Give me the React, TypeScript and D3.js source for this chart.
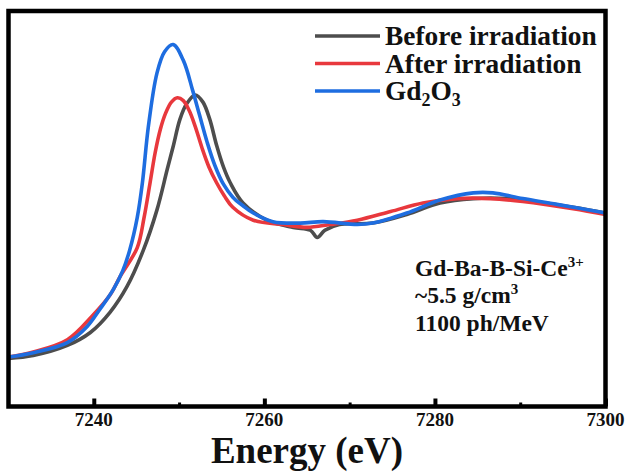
import { useEffect, useRef } from 'react'
import * as d3 from 'd3'

// XANES Gd L-edge, normalized absorption
const beforeData: [number, number][] = [
  [7230, -0.01], [7232.9, 0.01], [7236.9, 0.08], [7239.6, 0.17], [7241.9, 0.31],
  [7243.9, 0.49], [7245.8, 0.74], [7247.4, 1.02], [7248.6, 1.3], [7249.3, 1.46],
  [7250.1, 1.65], [7250.9, 1.76], [7251.9, 1.82], [7252.8, 1.77], [7253.6, 1.65],
  [7254.4, 1.47], [7255.2, 1.32], [7256.0, 1.21], [7257.5, 1.07], [7260.3, 0.95],
  [7263.4, 0.9], [7265.4, 0.88], [7266.2, 0.83], [7267.1, 0.88], [7268.8, 0.92],
  [7272.7, 0.93], [7276.7, 0.99], [7280.6, 1.07], [7284.5, 1.1], [7288.5, 1.1],
  [7296.2, 1.04], [7300, 1.0],
]

const afterData: [number, number][] = [
  [7230, 0.0], [7232.9, 0.035], [7236.9, 0.12], [7239.9, 0.29], [7241.9, 0.43],
  [7243.1, 0.56], [7245.1, 0.76], [7245.9, 0.97], [7246.6, 1.21], [7247.2, 1.42],
  [7247.8, 1.58], [7248.4, 1.69], [7249.1, 1.77], [7249.8, 1.8], [7250.5, 1.78],
  [7251.2, 1.71], [7251.9, 1.6], [7252.7, 1.45], [7253.5, 1.32], [7254.4, 1.21],
  [7255.3, 1.12], [7256.3, 1.04], [7258.7, 0.95], [7262.2, 0.92], [7265.0, 0.9],
  [7267.7, 0.92], [7270.9, 0.95], [7274.8, 1.01], [7278.6, 1.07], [7282.6, 1.1],
  [7286.5, 1.1], [7290.3, 1.08], [7296.2, 1.03], [7300, 0.99],
]

const gd2o3Data: [number, number][] = [
  [7230, 0.0], [7232.9, 0.03], [7236.9, 0.1], [7239.2, 0.21], [7240.7, 0.33],
  [7242.3, 0.47], [7243.4, 0.6], [7244.2, 0.74], [7245.1, 0.97], [7245.7, 1.21],
  [7246.4, 1.6], [7247.4, 1.97], [7248.3, 2.12], [7249.3, 2.17], [7250.5, 2.06],
  [7251.6, 1.85], [7252.4, 1.68], [7253.3, 1.49], [7254.2, 1.33], [7255.2, 1.2],
  [7256.3, 1.11], [7257.5, 1.05], [7258.7, 1.0], [7261.0, 0.94], [7264.2, 0.93],
  [7266.9, 0.94], [7270.9, 0.92], [7272.7, 0.93], [7276.7, 1.0], [7280.6, 1.09],
  [7284.5, 1.14], [7286.8, 1.14], [7290.3, 1.1], [7294.3, 1.06], [7300, 1.0],
]

const majorTicks = [7240, 7260, 7280, 7300]
const minorTicks = [7250, 7270, 7290]

const series = [
  { name: 'Before irradiation', data: beforeData, color: '#4d4d4d' },
  { name: 'After irradiation', data: afterData, color: '#e8383d' },
  { name: 'Gd2O3', data: gd2o3Data, color: '#1e6de0' },
]

const FONT = '"Liberation Serif", "Times New Roman", serif'

export default function App() {
  const ref = useRef<SVGSVGElement>(null)

  useEffect(() => {
    const svg = d3.select(ref.current)
    svg.selectAll('*').remove()

    const left = 8.5, right = 605.5, top = 11, bottom = 406.5

    const x = d3.scaleLinear().domain([7230, 7300]).range([left, right])
    const y = d3.scaleLinear().domain([-0.344, 2.403]).range([bottom, top])

    const line = d3.line<[number, number]>()
      .x(d => x(d[0]))
      .y(d => y(d[1]))
      .curve(d3.curveCatmullRom.alpha(0.5))

    const plot = svg.append('g')

    plot.append('defs').append('clipPath').attr('id', 'clip')
      .append('rect')
      .attr('x', left).attr('y', top)
      .attr('width', right - left).attr('height', bottom - top)

    series.forEach(s => {
      plot.append('path')
        .datum(s.data)
        .attr('clip-path', 'url(#clip)')
        .attr('fill', 'none')
        .attr('stroke', s.color)
        .attr('stroke-width', 3.6)
        .attr('stroke-linejoin', 'round')
        .attr('d', line)
    })

    // ticks, pointing inward
    svg.append('g')
      .attr('transform', `translate(0,${bottom})`)
      .call(d3.axisBottom(x).tickValues(majorTicks).tickSize(-8).tickFormat(() => ''))
      .call(g => g.select('.domain').remove())
      .call(g => g.selectAll('line').attr('stroke', '#000').attr('stroke-width', 4))

    svg.append('g')
      .attr('transform', `translate(0,${bottom})`)
      .call(d3.axisBottom(x).tickValues(minorTicks).tickSize(-4).tickFormat(() => ''))
      .call(g => g.select('.domain').remove())
      .call(g => g.selectAll('line').attr('stroke', '#000').attr('stroke-width', 3))

    // tick labels
    svg.append('g')
      .selectAll('text')
      .data(majorTicks)
      .enter().append('text')
      .attr('x', d => x(d))
      .attr('y', 426)
      .attr('text-anchor', 'middle')
      .attr('font-family', FONT)
      .attr('font-weight', 'bold')
      .attr('font-size', 19)
      .attr('fill', '#111')
      .text(d => d)

    // frame
    svg.append('rect')
      .attr('x', left).attr('y', top)
      .attr('width', right - left).attr('height', bottom - top)
      .attr('fill', 'none')
      .attr('stroke', '#000')
      .attr('stroke-width', 4.5)

    // axis title
    svg.append('text')
      .attr('x', (left + right) / 2)
      .attr('y', 463)
      .attr('text-anchor', 'middle')
      .attr('font-family', FONT)
      .attr('font-weight', 'bold')
      .attr('font-size', 37)
      .attr('fill', '#111')
      .text('Energy (eV)')

    // legend
    const legend = svg.append('g')
    series.forEach((s, i) => {
      const ly = 36 + i * 27.5
      legend.append('line')
        .attr('x1', 315).attr('x2', 380)
        .attr('y1', ly).attr('y2', ly)
        .attr('stroke', s.color)
        .attr('stroke-width', 3.6)
      const t = legend.append('text')
        .attr('x', 385)
        .attr('y', ly + 9)
        .attr('font-family', FONT)
        .attr('font-weight', 'bold')
        .attr('font-size', 27.4)
        .attr('fill', '#111')
      if (s.name === 'Gd2O3') {
        t.append('tspan').text('Gd')
        t.append('tspan').attr('font-size', 18).attr('dy', 6).text('2')
        t.append('tspan').attr('dy', -6).text('O')
        t.append('tspan').attr('font-size', 18).attr('dy', 6).text('3')
      } else {
        t.text(s.name)
      }
    })

    // sample annotation
    const note = svg.append('g')
      .attr('font-family', FONT)
      .attr('font-weight', 'bold')
      .attr('font-size', 23.5)
      .attr('fill', '#111')
    const n1 = note.append('text').attr('x', 415).attr('y', 276)
    n1.append('tspan').text('Gd-Ba-B-Si-Ce')
    n1.append('tspan').attr('font-size', 15).attr('dy', -9).text('3+')
    const n2 = note.append('text').attr('x', 415).attr('y', 303)
    n2.append('tspan').text('~5.5 g/cm')
    n2.append('tspan').attr('font-size', 15).attr('dy', -9).text('3')
    note.append('text').attr('x', 415).attr('y', 331).text('1100 ph/MeV')
  }, [])

  return (
    <svg
      ref={ref}
      width={628}
      height={472}
      style={{ position: 'absolute', left: 0, top: 0, background: '#fff' }}
    />
  )
}
